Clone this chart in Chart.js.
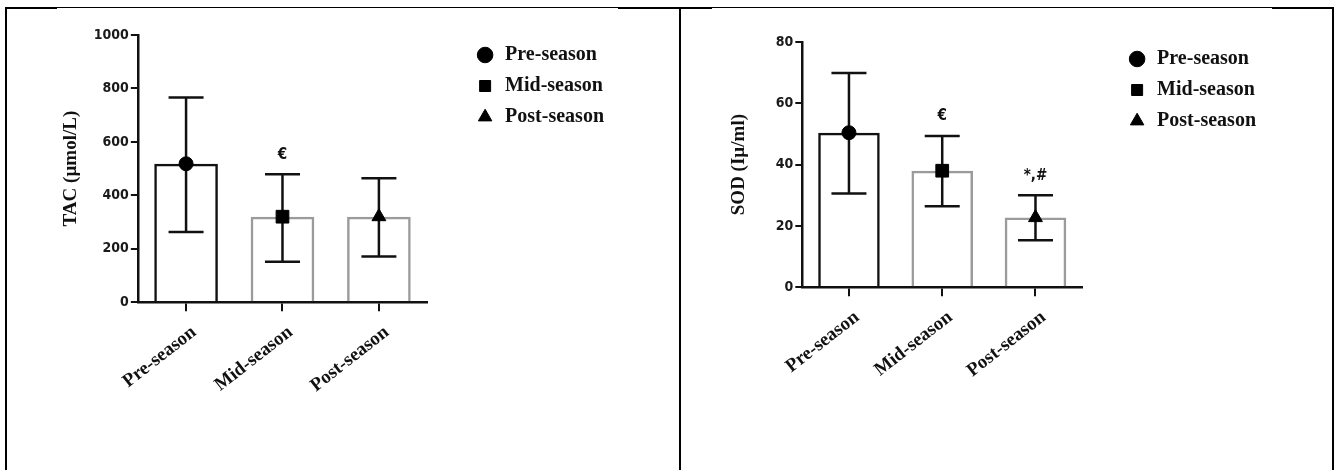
<!DOCTYPE html>
<html>
<head>
<meta charset="utf-8">
<script src="https://cdn.jsdelivr.net/npm/chart.js@4.4.1/dist/chart.umd.min.js"></script>
<style>
  body { margin: 0; background: #fff; }
  #wrap { position: relative; width: 1336px; height: 470px; overflow: hidden; }
  canvas { position: absolute; top: 0; }
  .ln { position: absolute; background: #000; }
</style>
</head>
<body>
<div id="wrap">
  <canvas id="tacChart" width="680" height="470" style="left:0"></canvas>
  <canvas id="sodChart" width="656" height="470" style="left:680px"></canvas>
  <!-- table frame -->
  <div class="ln" style="left:5px;top:7px;width:1329px;height:1px"></div>
  <div class="ln" style="left:5px;top:7px;width:52px;height:2px"></div>
  <div class="ln" style="left:618px;top:7px;width:94px;height:2px"></div>
  <div class="ln" style="left:1272px;top:7px;width:62px;height:2px"></div>
  <div class="ln" style="left:5px;top:7px;width:2px;height:463px"></div>
  <div class="ln" style="left:679px;top:7px;width:2px;height:463px"></div>
  <div class="ln" style="left:1332px;top:7px;width:2px;height:463px"></div>
</div>
<script>
// groups
const categories = ['Pre-season', 'Mid-season', 'Post-season'];

// TAC panel
const tacMean = [518, 320, 320];
const tacUpper = [766, 479, 464];
const tacLower = [263, 151, 171];
const tacNotes = ['', '€', ''];
const tacTicks = [0, 200, 400, 600, 800, 1000];

// SOD panel
const sodMean = [50.4, 38, 22.7];
const sodUpper = [69.9, 49.3, 30];
const sodLower = [30.6, 26.4, 15.3];
const sodNotes = ['', '€', '*,#'];
const sodTicks = [0, 20, 40, 60, 80];

const markerStyles = ['circle', 'rect', 'triangle'];
const markerSizes = [7, 9, 8];
const barBorders = ['#111', '#9b9b9b', '#9b9b9b'];

const sansNarrow = "'Liberation Sans Narrow', 'DejaVu Sans Condensed', 'Liberation Sans', sans-serif";
const serif = "'Liberation Serif', 'Times New Roman', serif";

// error bars + significance marks, drawn through the chart scales
const errorBars = {
  id: 'errorBars',
  beforeDatasetsDraw(chart, args, opts) {
    const {ctx, scales: {x, y}} = chart;
    ctx.save();
    ctx.strokeStyle = '#111';
    ctx.lineWidth = 2.5;
    opts.upper.forEach((hi, i) => {
      const cx = x.getPixelForValue(i);
      const top = y.getPixelForValue(hi);
      const bot = y.getPixelForValue(opts.lower[i]);
      const half = opts.cap / 2;
      ctx.beginPath();
      ctx.moveTo(cx, top); ctx.lineTo(cx, bot);
      ctx.moveTo(cx - half, top); ctx.lineTo(cx + half, top);
      ctx.moveTo(cx - half, bot); ctx.lineTo(cx + half, bot);
      ctx.stroke();
    });
    ctx.restore();
  },
  afterDatasetsDraw(chart, args, opts) {
    const {ctx, scales: {x, y}} = chart;
    ctx.save();
    ctx.fillStyle = '#111';
    ctx.font = 'bold 15px ' + sansNarrow;
    ctx.textAlign = 'center';
    ctx.textBaseline = 'bottom';
    opts.notes.forEach((t, i) => {
      if (!t) return;
      ctx.fillText(t, x.getPixelForValue(i), y.getPixelForValue(opts.upper[i]) - 12);
    });
    ctx.restore();
  }
};

// move the legend a bit away from the plot
const legendShift = {
  id: 'legendShift',
  afterLayout(chart, args, opts) {
    const lg = chart.legend;
    lg.left += opts.x; lg.right += opts.x;
    lg.top += opts.y; lg.bottom += opts.y;
  }
};

function makeChart(id, o) {
  return new Chart(document.getElementById(id), {
    data: {
      labels: categories,
      datasets: [
        {
          type: 'bar',
          label: 'mean',
          data: o.mean,
          backgroundColor: 'rgba(0,0,0,0)',
          borderColor: barBorders,
          borderWidth: 2.5,
          categoryPercentage: 1,
          barPercentage: 0.66,
          order: 2
        },
        ...categories.map((c, i) => ({
          type: 'line',
          label: c,
          data: o.mean.map((v, j) => (j === i ? v : null)),
          showLine: false,
          pointStyle: markerStyles[i],
          pointRadius: markerSizes[i],
          backgroundColor: '#000',
          borderColor: '#000',
          order: 1
        }))
      ]
    },
    plugins: [errorBars, legendShift],
    options: {
      responsive: false,
      animation: false,
      layout: { padding: o.padding },
      plugins: {
        tooltip: { enabled: false },
        errorBars: { upper: o.upper, lower: o.lower, notes: o.notes, cap: 35 },
        legendShift: o.legendShift,
        legend: {
          position: 'right',
          align: 'start',
          maxWidth: 220,
          labels: {
            filter: item => item.datasetIndex > 0,
            usePointStyle: true,
            boxHeight: 11,
            padding: 11,
            color: '#111',
            font: { family: serif, weight: 'bold', size: 20 }
          }
        }
      },
      scales: {
        x: {
          offset: true,
          grid: { display: true, drawOnChartArea: false, offset: false, tickLength: 9, color: '#111', lineWidth: 2 },
          border: { display: true, color: '#111', width: 2.5 },
          ticks: {
            autoSkip: false,
            minRotation: 38,
            maxRotation: 38,
            padding: 10,
            labelOffset: 8,
            color: '#111',
            font: { family: serif, weight: 'bold', size: 19 }
          }
        },
        y: {
          min: o.ticks[0],
          max: o.ticks[o.ticks.length - 1],
          grid: { display: true, drawOnChartArea: false, tickLength: 7, color: '#111', lineWidth: 2 },
          border: { display: true, color: '#111', width: 2.5 },
          ticks: {
            stepSize: o.ticks[1] - o.ticks[0],
            callback: v => String(v),
            padding: 2,
            color: '#1a1a1a',
            font: { family: sansNarrow, weight: 'bold', size: 14 }
          },
          title: {
            display: true,
            text: o.title,
            color: '#111',
            padding: o.titlePadding,
            font: { family: serif, weight: 'bold', size: 19 }
          }
        }
      }
    }
  });
}

makeChart('tacChart', {
  mean: tacMean, upper: tacUpper, lower: tacLower, notes: tacNotes, ticks: tacTicks,
  title: 'TAC (µmol/L)',
  titlePadding: { top: 10, bottom: 9 },
  padding: { left: 50, top: 35, right: 103, bottom: 63 },
  legendShift: { x: 37, y: -1 }
});

makeChart('sodChart', {
  mean: sodMean, upper: sodUpper, lower: sodLower, notes: sodNotes, ticks: sodTicks,
  title: 'SOD (Iµ/ml)',
  titlePadding: { top: 10, bottom: 23 },
  padding: { left: 38, top: 42, right: 104, bottom: 78 },
  legendShift: { x: 34, y: -4 }
});
</script>
</body>
</html>
